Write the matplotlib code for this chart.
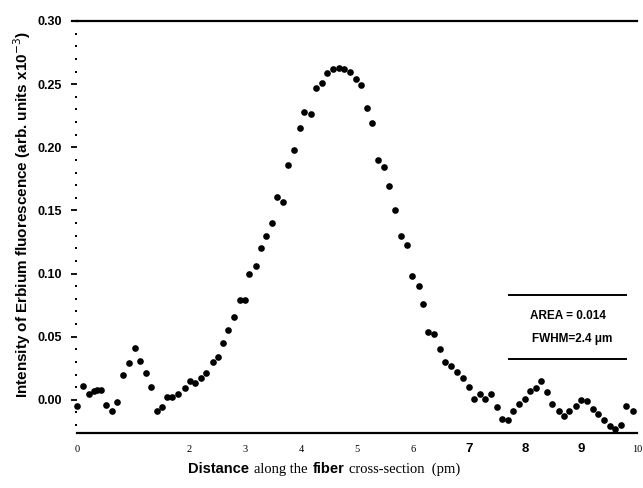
import numpy as np
import matplotlib
matplotlib.use('Agg')
import matplotlib.pyplot as plt
from matplotlib.lines import Line2D

# distance along fiber (um) and fluorescence intensity
dist = [0.00, 0.11, 0.21, 0.30, 0.36, 0.43, 0.51, 0.62, 0.72, 0.82,
        0.92, 1.03, 1.12, 1.23, 1.32, 1.42, 1.52, 1.61, 1.70, 1.81,
        1.92, 2.02, 2.11, 2.21, 2.31, 2.42, 2.51, 2.60, 2.70, 2.80,
        2.91, 3.00, 3.08, 3.19, 3.29, 3.38, 3.48, 3.58, 3.68, 3.77,
        3.88, 3.98, 4.06, 4.17, 4.27, 4.37, 4.47, 4.57, 4.67, 4.77,
        4.87, 4.98, 5.08, 5.17, 5.27, 5.37, 5.48, 5.57, 5.68, 5.79,
        5.90, 5.99, 6.10, 6.18, 6.27, 6.38, 6.48, 6.58, 6.68, 6.79,
        6.89, 7.00, 7.09, 7.19, 7.29, 7.39, 7.50, 7.59, 7.69, 7.78,
        7.89, 8.00, 8.09, 8.20, 8.29, 8.40, 8.49, 8.60, 8.70, 8.79,
        8.91, 9.00, 9.10, 9.21, 9.31, 9.41, 9.52, 9.61, 9.72, 9.81,
        9.92]
intensity = [-0.005, 0.011, 0.005, 0.007, 0.008, 0.008, -0.004, -0.009, -0.002, 0.020,
             0.029, 0.041, 0.031, 0.021, 0.010, -0.009, -0.006, 0.002, 0.002, 0.005,
             0.009, 0.015, 0.013, 0.017, 0.021, 0.030, 0.034, 0.045, 0.055, 0.066,
             0.079, 0.079, 0.100, 0.106, 0.120, 0.130, 0.140, 0.161, 0.157, 0.186,
             0.198, 0.215, 0.228, 0.226, 0.247, 0.251, 0.259, 0.262, 0.263, 0.262,
             0.260, 0.254, 0.249, 0.231, 0.219, 0.190, 0.184, 0.169, 0.150, 0.130,
             0.123, 0.098, 0.090, 0.076, 0.054, 0.052, 0.040, 0.030, 0.027, 0.022,
             0.017, 0.010, 0.001, 0.005, 0.001, 0.005, -0.006, -0.015, -0.016, -0.009,
             -0.003, 0.001, 0.007, 0.009, 0.015, 0.006, -0.003, -0.009, -0.013, -0.009,
             -0.005, 0.000, -0.001, -0.007, -0.011, -0.016, -0.021, -0.023, -0.020, -0.005,
             -0.009]

xticks = [0, 2, 3, 4, 5, 6, 7, 8, 9, 10]
xticklabels = ['0', '2', '3', '4', '5', '6', '7', '8', '9', '10']
bold_ticks = ['7', '8', '9']
yticks = [0.00, 0.05, 0.10, 0.15, 0.20, 0.25, 0.30]
legend_lines = ['AREA = 0.014', 'FWHM=2.4 \u03bcm']

W, H = 643, 488
fig = plt.figure(figsize=(W / 100, H / 100), dpi=100)
ax = fig.add_axes([77 / W, 1 - 432.7 / H, 560 / W, 411.7 / H])

ax.plot(dist, intensity, 'o', color='black', ms=4.8, mew=0, clip_on=False)

ax.set_xlim(0, 10)
ax.set_ylim(-0.026, 0.30)

for s in ['left', 'right']:
    ax.spines[s].set_visible(False)
ax.spines['top'].set_linewidth(1.6)
ax.spines['bottom'].set_linewidth(1.6)
# top rule in the scan reaches a little past the axis on the left
fig.add_artist(Line2D([72 / W, 77 / W], [1 - 21 / H, 1 - 21 / H], color='black', lw=1.6))

# y ticks: short dashes, dotted minor ticks
ax.set_yticks(yticks)
ax.set_yticklabels(['%.2f' % v for v in yticks], fontfamily='Liberation Sans',
                   fontweight='bold', fontsize=9)
ax.set_yticks(np.arange(-0.02, 0.30, 0.01), minor=True)
ax.tick_params(axis='y', which='major', length=4.5, width=1.3, pad=6.5, direction='out')
ax.tick_params(axis='y', which='minor', length=1.3, width=1.4, direction='out')

# x ticks: no marks, mixed fonts as in the scan
ax.set_xticks(xticks)
ax.set_xticklabels(xticklabels)
ax.tick_params(axis='x', length=0, pad=12)
for lab in ax.get_xticklabels():
    lab.set_verticalalignment('center')
    if lab.get_text() in bold_ticks:
        lab.set_fontfamily('Liberation Sans')
        lab.set_fontweight('bold')
        lab.set_fontsize(9.5)
    else:
        lab.set_fontfamily('Liberation Serif')
        lab.set_fontsize(7.5)

# y label
fig.text(22 / W, 1 - 215 / H,
         'Intensity of Erbium fluorescence (arb. units x10$^{-3}$)',
         rotation=90, ha='center', va='center', fontsize=11,
         fontfamily='Liberation Sans', fontweight='bold')

# x label pieced together from mixed fonts
pieces = [('Distance', 'Liberation Sans', 'bold', 10.5),
          ('along the', 'Liberation Serif', 'normal', 10.5),
          ('fiber', 'Liberation Sans', 'bold', 10.5),
          ('cross-section  (pm)', 'Liberation Serif', 'normal', 10.5)]
fig.canvas.draw()
r = fig.canvas.get_renderer()
xpos = 188
for txt, fam, wt, fs in pieces:
    t = fig.text(xpos / W, 1 - 473 / H, txt, fontfamily=fam, fontweight=wt,
                 fontsize=fs, ha='left', va='baseline')
    bb = t.get_window_extent(renderer=r)
    xpos += bb.width + 5

# boxed annotation
for yy in [295, 359]:
    fig.add_artist(Line2D([509 / W, 626 / W], [1 - yy / H, 1 - yy / H],
                          color='black', lw=1.4))
fig.text(568 / W, 1 - 316 / H, legend_lines[0], ha='center', va='center',
         fontsize=8.5, fontfamily='Liberation Sans', fontweight='bold')
fig.text(572 / W, 1 - 339 / H, legend_lines[1], ha='center', va='center',
         fontsize=8.5, fontfamily='Liberation Sans', fontweight='bold')

fig.savefig('out.png', dpi=100)
